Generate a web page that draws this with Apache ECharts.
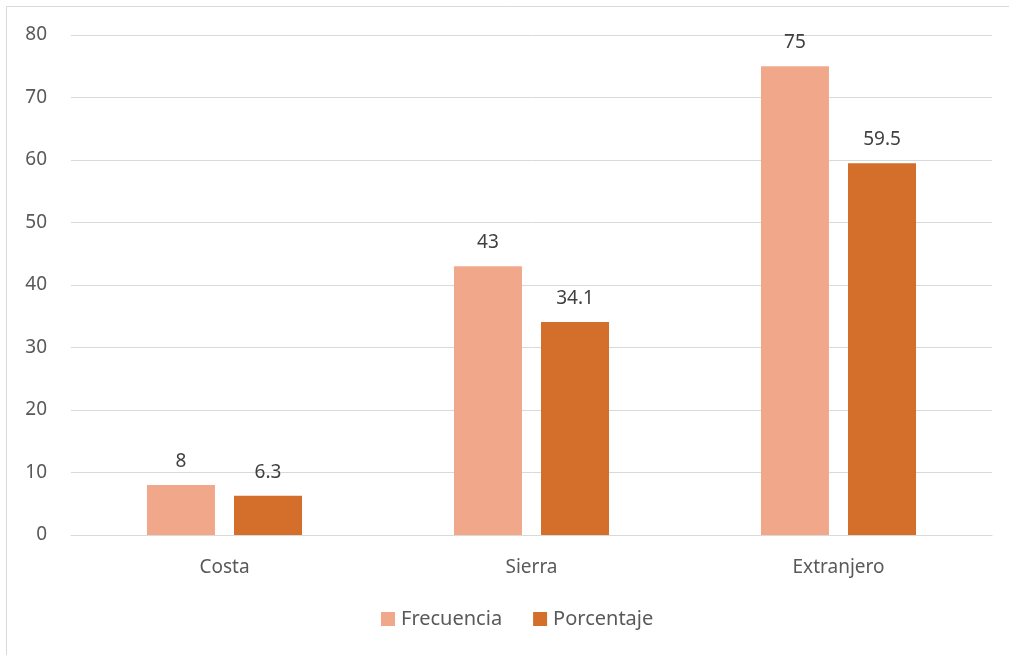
<!DOCTYPE html>
<html>
<head>
<meta charset="utf-8">
<script src="https://cdn.jsdelivr.net/npm/echarts@6/dist/echarts.min.js"></script>
<style>
  html, body { margin: 0; padding: 0; background: #fff; }
  #chart { width: 1009px; height: 655px; }
</style>
</head>
<body>
<div id="chart"></div>
<script>
var categories = ['Costa', 'Sierra', 'Extranjero'];
var frecuencia = [8, 43, 75];
var porcentaje = [6.3, 34.1, 59.5];

var chart = echarts.init(document.getElementById('chart'));
var txt = '#595959';
var font = 'Noto Sans';

chart.setOption({
  animation: false,
  textStyle: { fontFamily: font },
  graphic: [{
    type: 'rect',
    shape: { x: 6.5, y: 6.5, width: 1020, height: 680 },
    style: { fill: 'none', stroke: '#d9d9d9', lineWidth: 1 }
  }],
  grid: { left: 71, right: 17, top: 35, bottom: 120 },
  legend: {
    bottom: 21,
    left: 376,
    itemWidth: 14,
    itemHeight: 14,
    itemGap: 31,
    icon: 'rect',
    textStyle: { color: txt, fontSize: 20, fontFamily: font, padding: [0, 0, 0, 1] },
    data: ['Frecuencia', 'Porcentaje']
  },
  xAxis: {
    type: 'category',
    data: categories,
    axisLine: { lineStyle: { color: '#d9d9d9' } },
    axisTick: { show: false },
    axisLabel: { color: txt, fontSize: 19, margin: 23 }
  },
  yAxis: {
    type: 'value',
    min: 0,
    max: 80,
    interval: 10,
    axisLine: { show: false },
    axisTick: { show: false },
    axisLabel: { color: txt, fontSize: 19, margin: 24 },
    splitLine: { lineStyle: { color: '#d9d9d9' } }
  },
  series: [
    {
      name: 'Frecuencia',
      type: 'bar',
      data: frecuencia,
      barWidth: 68,
      barGap: '28%',
      itemStyle: { color: '#F1A88A' },
      label: { show: true, position: 'top', distance: 14, color: '#404040', fontSize: 19 }
    },
    {
      name: 'Porcentaje',
      type: 'bar',
      data: porcentaje,
      barWidth: 68,
      itemStyle: { color: '#D36E2B' },
      label: { show: true, position: 'top', distance: 14, color: '#404040', fontSize: 19 }
    }
  ]
});
</script>
</body>
</html>
